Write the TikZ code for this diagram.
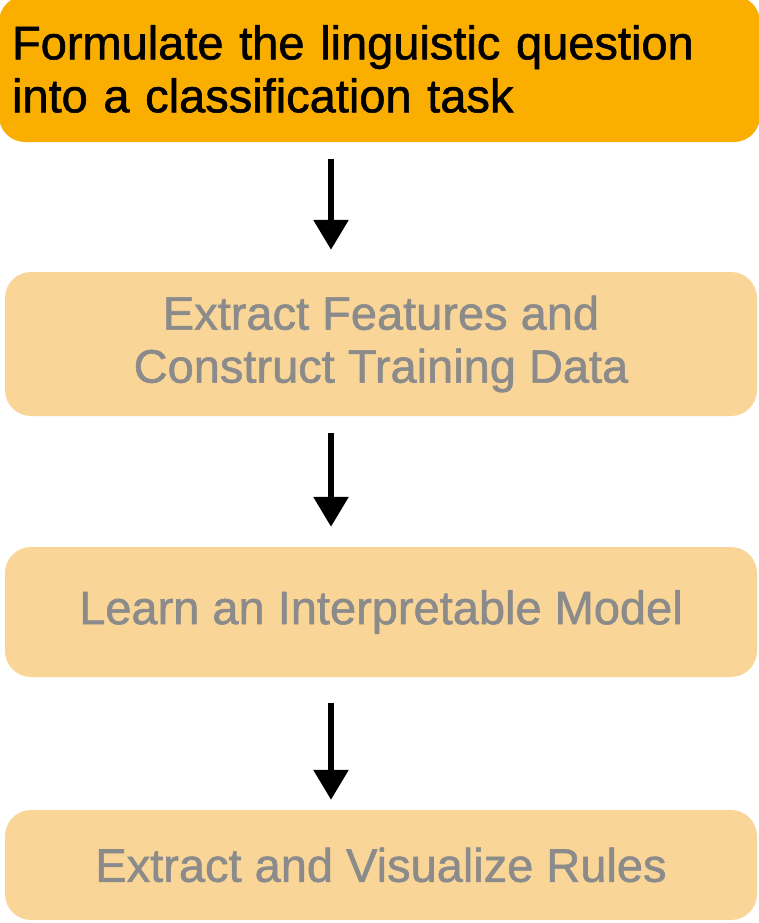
\documentclass[tikz,border=0pt]{standalone}
\usepackage{fontspec}
\setmainfont{Liberation Sans}
\newfontfamily\boxfont[FakeBold=1.2]{Liberation Sans}
\usetikzlibrary{arrows.meta}
\definecolor{orangeA}{RGB}{249,174,0}
\definecolor{paleA}{RGB}{249,214,152}
\definecolor{greyT}{RGB}{139,139,139}
\tikzset{
  stepbox/.style={rectangle, rounded corners=26pt, fill=paleA, draw=none,
    minimum width=752pt, text=greyT, align=center, inner sep=0pt,
    font=\boxfont\fontsize{47}{53}\selectfont},
  topbox/.style={rectangle, rounded corners=26pt, fill=orangeA, draw=none,
    minimum width=761pt, text=black, align=left, text width=735pt, inner xsep=13pt, inner ysep=0pt,
    font=\boxfont\fontsize{47}{53}\selectfont},
  flowarrow/.style={line width=6pt, -{Triangle[width=34pt,length=30pt]}}
}
\begin{document}
\begin{tikzpicture}[x=1pt,y=-1pt]
\useasboundingbox (0,0) rectangle (759,923);
\fill[white] (0,0) rectangle (759,923);
\node[topbox, minimum height=146pt] (b1) at (379.5,69) {Formulate the linguistic question\\into a classification task};
\node[stepbox, minimum height=144pt] (b2) at (381,344) {Extract Features and\\Construct Training Data};
\node[stepbox, minimum height=130pt] (b3) at (381,612) {Learn an Interpretable Model};
\node[stepbox, minimum height=110pt] (b4) at (381,865) {Extract and Visualize Rules};
\coordinate (ax) at (331,0);
\draw[flowarrow] ([yshift=-17pt]b1.south -| ax) -- ([yshift=22pt]b2.north -| ax);
\draw[flowarrow] ([yshift=-17pt]b2.south -| ax) -- ([yshift=20pt]b3.north -| ax);
\draw[flowarrow] ([yshift=-26pt]b3.south -| ax) -- ([yshift=10pt]b4.north -| ax);
\end{tikzpicture}
\end{document}
